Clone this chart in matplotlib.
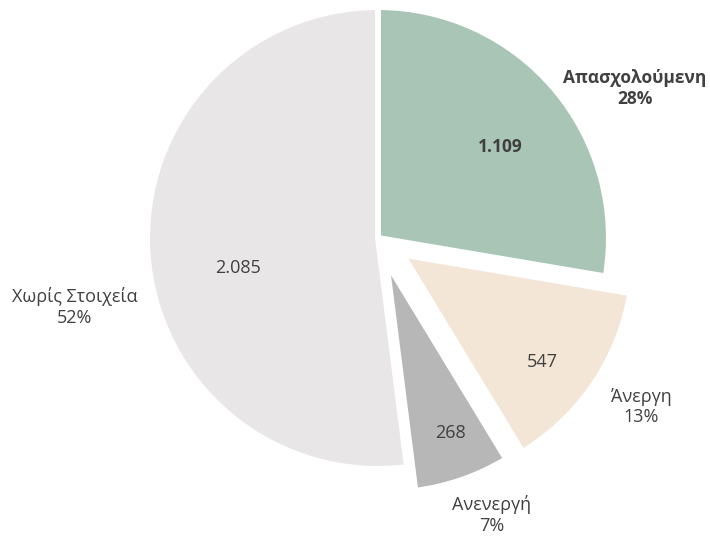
import numpy as np
import matplotlib.pyplot as plt

plt.rcParams['font.family'] = ['Open Sans', 'DejaVu Sans']

# employment status data
categories = ['Απασχολούμενη', 'Άνεργη', 'Ανενεργή', 'Χωρίς Στοιχεία']
values = [1109, 547, 268, 2085]
value_text = ['1.109', '547', '268', '2.085']
percent_text = ['28%', '13%', '7%', '52%']

colors = ['#a9c5b6', '#f3e6d6', '#b8b7b7', '#e9e6e7']
explode = [0, 0.13, 0.11, 0]
bold = [True, False, False, False]

# label placement (data units, pie radius = 1)
value_xy = [(0.535, 0.40), (0.72, -0.544), (0.316, -0.855), (-0.614, -0.13)]
label_xy = [(1.127, 0.654), (1.154, -0.741), (0.50, -1.215), (-1.329, -0.303)]

fig = plt.figure(figsize=(7.10, 5.37), dpi=100)
ax = fig.add_axes([0, 0, 1, 1])

ax.pie(values, colors=colors, explode=explode, startangle=90,
       counterclock=False, radius=1.013,
       wedgeprops=dict(edgecolor='white', linewidth=4.3))

txt_color = '#404040'
for i in range(len(values)):
    w = 'bold' if bold[i] else 'normal'
    fs = 12.5 if bold[i] else 13
    ax.text(value_xy[i][0], value_xy[i][1], value_text[i], ha='center',
            va='center', fontsize=fs, color=txt_color, fontweight=w)
    ax.text(label_xy[i][0], label_xy[i][1],
            categories[i] + '\n' + percent_text[i], ha='center', va='center',
            fontsize=fs, color=txt_color, fontweight=w, linespacing=1.2)

ax.set_xlim(-378 / 228, (710 - 378) / 228)
ax.set_ylim(-(537 - 238) / 228, 238 / 228)
ax.set_aspect('auto')
ax.axis('off')

fig.savefig('out.png', dpi=100, facecolor='white')
